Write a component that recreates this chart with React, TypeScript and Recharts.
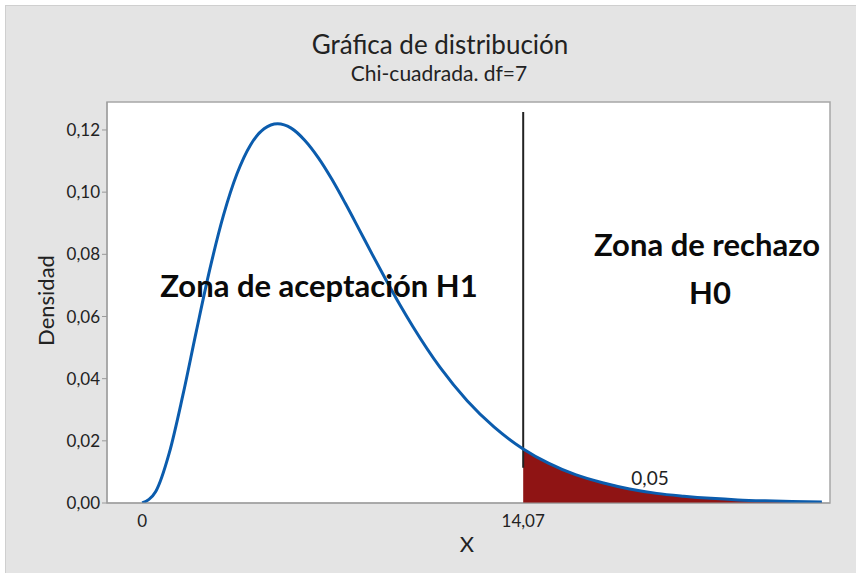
import React from 'react';
import { ComposedChart, Line, Area, XAxis, YAxis, ReferenceLine, ReferenceArea } from 'recharts';

// Chi-cuadrada df=7, valores
const xValues = [0, 0.5, 1, 1.5, 2, 2.5, 3, 3.5, 4, 4.5, 5, 5.5, 6, 6.5, 7, 7.5, 8, 8.5, 9, 9.5, 10, 11, 12, 13, 14, 14.07, 15, 16, 17, 18, 19, 20, 21, 22, 23, 24, 25.1];
const densityValues = [0, 0.0037, 0.0161, 0.0346, 0.0553, 0.0753, 0.0925, 0.1059, 0.1152, 0.1204, 0.122, 0.1206, 0.1167, 0.1111, 0.1042, 0.0964, 0.0882, 0.0799, 0.0718, 0.064, 0.0567, 0.0436, 0.0329, 0.0244, 0.0178, 0.0174, 0.0128, 0.0091, 0.0065, 0.0045, 0.0031, 0.0022, 0.0015, 0.001, 0.0007, 0.0005, 0.0003];
const criticalValue = 14.07;
const yTicks = [0, 0.02, 0.04, 0.06, 0.08, 0.1, 0.12];
const xTicks = [0, 14.07];

const data = xValues.map((x, i) => ({
  x,
  density: densityValues[i],
  tail: x >= criticalValue ? densityValues[i] : undefined,
}));

const FONT = 'Lato, "Open Sans", sans-serif';
const fmt = (v: number) => v.toFixed(2).replace('.', ',');

const bold: React.CSSProperties = { position: 'absolute', textAlign: 'center', fontSize: 31, fontWeight: 700, color: '#0a0a0a', whiteSpace: 'nowrap' };

export default function App() {
  return (
    <div style={{ position: 'absolute', left: 0, top: 0, width: 856, height: 573, background: '#fff', fontFamily: FONT }}>
      <div style={{ position: 'absolute', left: 5, top: 5, width: 851, height: 568, background: '#e4e4e4', borderLeft: '1px solid #cfcfcf', borderTop: '1px solid #cfcfcf', boxSizing: 'border-box' }} />
      <div style={{ position: 'absolute', left: 0, width: 880, top: 28, textAlign: 'center', fontSize: 26, color: '#222' }}>Gráfica de distribución</div>
      <div style={{ position: 'absolute', left: 0, width: 878, top: 60, textAlign: 'center', fontSize: 21, color: '#222' }}>Chi-cuadrada. df=7</div>
      <div style={{ position: 'absolute', left: 0, top: 0 }}>
        <ComposedChart width={856} height={573} data={data} margin={{ top: 102, right: 26, left: 0, bottom: 40 }}>
          <XAxis
            dataKey="x"
            type="number"
            domain={[-1.3, 25.4]}
            ticks={xTicks}
            tickFormatter={(v: number) => (v === 0 ? '0' : v.toFixed(2).replace('.', ','))}
            tickLine={false}
            tickMargin={6}
            axisLine={{ stroke: '#9a9a9a' }}
            tick={{ fontSize: 17, fill: '#222', fontFamily: FONT }}
            height={30}
          />
          <YAxis
            type="number"
            domain={[0, 0.129]}
            ticks={yTicks}
            tickFormatter={fmt}
            tickSize={5}
            tickLine={{ stroke: '#9a9a9a' }}
            axisLine={{ stroke: '#9a9a9a' }}
            tick={{ fontSize: 17, fill: '#222', fontFamily: FONT }}
            width={107}
            allowDataOverflow
          />
          <ReferenceArea x1={-1.3} x2={25.4} y1={0} y2={0.129} fill="#fff" fillOpacity={1} stroke="#a6a6a6" strokeWidth={1.5} />
          <ReferenceLine
            segment={[{ x: criticalValue, y: 0.0113 }, { x: criticalValue, y: 0.1258 }]}
            stroke="#222"
            strokeWidth={2}
          />
          <Area dataKey="tail" type="monotone" fill="#8f1414" fillOpacity={1} stroke="none" isAnimationActive={false} />
          <Line dataKey="density" type="monotone" stroke="#0b5cad" strokeWidth={3} dot={false} isAnimationActive={false} />
        </ComposedChart>
      </div>
      <div style={{ position: 'absolute', left: 437, width: 60, top: 530, textAlign: 'center', fontSize: 22, color: '#222' }}>X</div>
      <div style={{ position: 'absolute', left: 45, top: 301, width: 0, height: 0 }}>
        <div style={{ position: 'absolute', left: -60, top: -14, width: 120, textAlign: 'center', fontSize: 22, color: '#222', transform: 'rotate(-90deg)' }}>Densidad</div>
      </div>
      <div style={{ ...bold, left: 139, width: 360, top: 266 }}>Zona de aceptación H1</div>
      <div style={{ ...bold, left: 567, width: 280, top: 225 }}>Zona de rechazo</div>
      <div style={{ ...bold, left: 580, width: 260, top: 273 }}>H0</div>
      <div style={{ position: 'absolute', left: 615, width: 70, top: 466, textAlign: 'center', fontSize: 19, color: '#222' }}>0,05</div>
    </div>
  );
}
